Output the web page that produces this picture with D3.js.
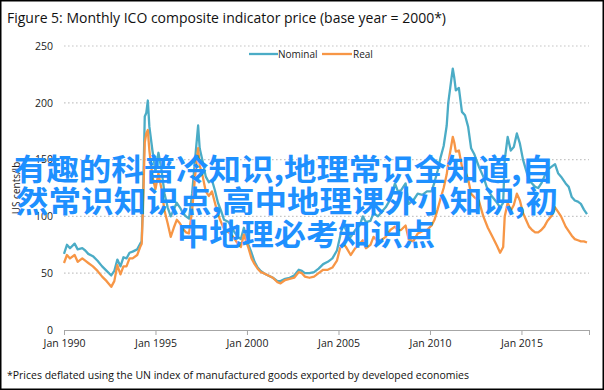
<!DOCTYPE html>
<html><head><meta charset="utf-8">
<script src="https://cdn.jsdelivr.net/npm/d3@7"></script>
<style>body{margin:0;background:#fff}svg{display:block}</style>
</head><body>
<svg id="c" width="604" height="390"></svg>
<script>
const months = ["1990-01","1990-03","1990-05","1990-08","1990-10","1991-01","1991-03","1991-05","1991-08","1991-11",
"1992-02","1992-05","1992-08","1992-10","1992-12","1993-02","1993-04","1993-06","1993-08","1993-10",
"1994-01","1994-03","1994-04","1994-05","1994-06","1994-07","1994-08","1994-09","1994-11","1995-01",
"1995-03","1995-05","1995-07","1995-09","1995-11","1996-01","1996-03","1996-05","1996-07","1996-09",
"1996-11","1997-01","1997-03","1997-05","1997-06","1997-08","1997-10","1997-12","1998-02","1998-04",
"1998-06","1998-08","1998-10","1999-01","1999-04","1999-07","1999-09","1999-11","2000-02","2000-04",
"2000-06","2000-08","2000-10","2000-12","2001-03","2001-06","2001-09","2001-11","2002-02","2002-05",
"2002-08","2002-11","2003-01","2003-03","2003-06","2003-09","2003-12","2004-03","2004-06","2004-09",
"2004-12","2005-02","2005-04","2005-06","2005-09","2005-12","2006-03","2006-05","2006-07","2006-10",
"2006-12","2007-03","2007-06","2007-08","2007-11","2008-02","2008-04","2008-06","2008-09","2008-11",
"2009-02","2009-05","2009-08","2009-11","2010-02","2010-04","2010-06","2010-08","2010-10","2010-12",
"2011-01","2011-03","2011-04","2011-05","2011-06","2011-08","2011-10","2011-12","2012-02","2012-04",
"2012-06","2012-09","2012-12","2013-03","2013-06","2013-09","2013-11","2014-01","2014-02","2014-04",
"2014-06","2014-08","2014-10","2014-12","2015-02","2015-04","2015-06","2015-08","2015-10","2015-12",
"2016-02","2016-04","2016-06","2016-09","2016-11","2017-01","2017-03","2017-06","2017-08","2017-10",
"2017-12","2018-02","2018-04","2018-06","2018-08"];
const nominal = [67,75,72,76,71,72,70,67,65,61,
56,52,48,52,62,56,64,63,68,69,
71,76,78,123,188,191,202,179,158,140,
156,141,120,108,100,106,112,108,103,100,
98,120,150,180,160,148,135,130,132,123,
112,105,97,95,88,82,80,90,75,68,
60,55,52,50,48,46,43,43,45,46,
48,53,52,50,50,51,54,58,60,63,
70,82,94,88,82,88,92,100,95,96,
103,100,105,108,115,129,122,123,129,111,
114,120,119,122,122,130,140,152,162,180,
200,220,230,222,211,213,192,189,179,160,
155,144,135,123,117,112,108,112,150,170,
158,161,173,164,150,141,132,129,126,125,
129,135,141,144,146,138,135,129,126,117,
114,113,111,106,102];
const real = [59,66,63,66,60,63,61,59,56,52,
47,43,38,43,57,49,56,56,63,63,
66,73,76,114,165,173,176,158,135,124,
138,124,105,94,82,90,97,94,89,86,
85,105,135,160,145,135,122,118,122,112,
102,95,89,86,82,76,73,84,72,63,
58,54,51,50,48,46,42,41,44,45,
46,51,50,47,46,47,50,53,53,55,
61,72,76,73,66,72,76,79,72,75,
82,78,80,82,88,91,88,88,92,80,
78,85,87,88,92,97,106,116,125,137,
147,162,170,165,157,158,144,140,133,120,
117,114,100,90,82,74,68,73,100,112,
105,110,120,114,103,97,91,88,86,86,
88,91,96,101,108,104,100,91,87,83,
80,79,78,78,77];
const yTicks = [0,50,100,150,200,250];
const xTickYears = [1990,1995,2000,2005,2010,2015];
const seriesNames = ["Nominal","Real"];
const colors = ["#4BACC6","#F79646"];
const title = "Figure 5: Monthly  ICO composite indicator price (base year = 2000*)";
const footnote = "*Prices deflated using the UN index of manufactured goods exported by developed economies";
const yTitle = "US cents/lb";
const watermark = ["有趣的科普冷知识,地理常识全知道,自","然常识知识点,高中地理课外小知识,初","中地理必考知识点"];

const svg = d3.select("#c");
const parse = d3.timeParse("%Y-%m");
const dates = months.map(parse);
const x = d3.scaleTime().domain([new Date(1990,0,1), new Date(2018,8,10)]).range([64,589]);
const y = d3.scaleLinear().domain([0,250]).range([330,46]);
const font = "Open Sans, Liberation Sans, sans-serif";

svg.append("rect").attr("x",0.75).attr("y",0.75).attr("width",602.5).attr("height",388.5)
  .attr("fill","#fff").attr("stroke","#000").attr("stroke-width",1.5);

svg.append("text").attr("x",7).attr("y",23).attr("font-family",font).attr("font-size",14.5)
  .attr("fill","#111").attr("textLength",439).attr("lengthAdjust","spacingAndGlyphs").text(title);

// gridlines
svg.append("g").selectAll("line").data(yTicks.filter(d=>d>0)).join("line")
  .attr("x1",64).attr("x2",589).attr("y1",d=>y(d)).attr("y2",d=>y(d))
  .attr("stroke","#c6c6c6").attr("stroke-width",1.2).attr("stroke-dasharray","1.6,2.4");

// y labels
svg.append("g").selectAll("text").data(yTicks).join("text")
  .attr("x",53).attr("y",d=>y(d)+3.8).attr("text-anchor","end")
  .attr("font-family",font).attr("font-size",10.5).attr("fill","#222").text(d=>d);

// x axis
const xTickDates = xTickYears.map(yr=>new Date(yr,0,1));
const xa = d3.axisBottom(x).tickValues(xTickDates.concat([x.domain()[1]])).tickSize(5)
  .tickFormat(d=> xTickYears.includes(d.getFullYear()) && d.getMonth()===0 ? "Jan "+d.getFullYear() : "");
const gx = svg.append("g").attr("transform","translate(0,330)").call(xa);
gx.select(".domain").attr("stroke","#a6a6a6").attr("d","M64,0.5H589");
gx.selectAll(".tick line").attr("stroke","#a6a6a6");
gx.selectAll(".tick text").attr("font-family",font).attr("font-size",10.5).attr("fill","#222").attr("dy","0.9em");

// y title
svg.append("text").attr("transform","translate(20,188) rotate(-90)").attr("text-anchor","middle")
  .attr("font-family",font).attr("font-size",10).attr("fill","#222").text(yTitle);

// lines
const line = d3.line().x((d,i)=>x(dates[i])).y(d=>y(d));
[nominal, real].forEach((s,k)=>{
  svg.append("path").datum(s).attr("d",line).attr("fill","none")
    .attr("stroke",colors[k]).attr("stroke-width",2.3).attr("stroke-linejoin","round");
});

// legend
const lg = [{x:249,w:29,tx:278},{x:322,w:30,tx:353}];
seriesNames.forEach((n,k)=>{
  svg.append("line").attr("x1",lg[k].x).attr("x2",lg[k].x+lg[k].w).attr("y1",54).attr("y2",54)
    .attr("stroke",colors[k]).attr("stroke-width",2.3);
  svg.append("text").attr("x",lg[k].tx).attr("y",57.5).attr("font-family",font).attr("font-size",10)
    .attr("fill","#222").text(n);
});

// footnote
svg.append("text").attr("x",7).attr("y",379).attr("font-family",font).attr("font-size",11)
  .attr("fill","#111").attr("textLength",462).attr("lengthAdjust","spacingAndGlyphs").text(footnote);

// watermark
const wm = [{cx:284,y:180,w:540},{cx:287,y:212,w:542},{cx:306,y:245,w:258}];
watermark.forEach((t,i)=>{
  svg.append("text").attr("x",wm[i].cx).attr("y",wm[i].y).attr("text-anchor","middle")
    .attr("font-family","Noto Sans CJK SC, sans-serif").attr("font-weight",700).attr("font-size",30)
    .attr("fill","#1E90FF").attr("textLength",wm[i].w).attr("lengthAdjust","spacingAndGlyphs").text(t);
});
</script>
</body></html>
